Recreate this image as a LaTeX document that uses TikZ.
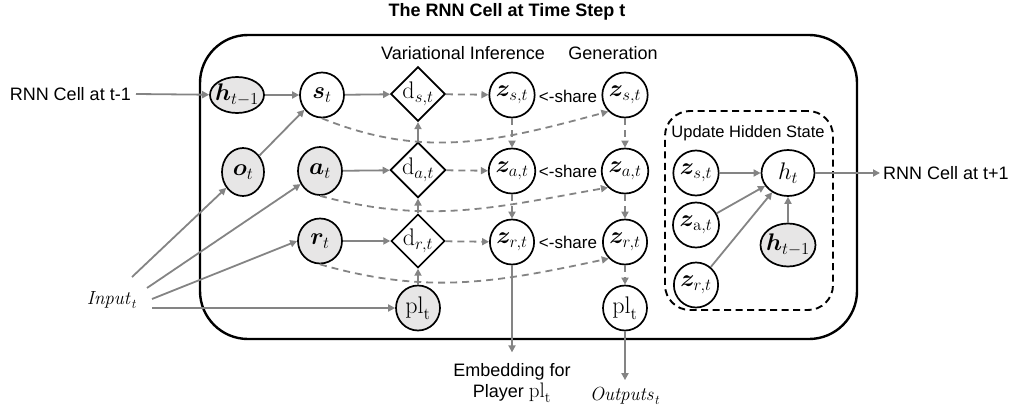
\RequirePackage{fix-cm}
\documentclass[tikz,border=0pt]{standalone}
\usepackage{amsmath,bm}
\usepackage[no-math]{fontspec}
\setmainfont{Liberation Sans}
\usetikzlibrary{arrows.meta,shapes.geometric}
\definecolor{lgray}{RGB}{132,132,132}
\definecolor{nfill}{RGB}{231,230,230}
\begin{document}
\begin{tikzpicture}[x=1pt,y=-1pt,
  every node/.style={font=\fontsize{18}{21}\selectfont, inner sep=2pt},
  mfont/.style={font=\fontsize{24}{28}\selectfont},
  var/.style={draw=black, line width=1.7pt, ellipse, minimum width=44pt, minimum height=45pt, inner sep=0pt, mfont},
  obs/.style={var, fill=nfill},
  hvar/.style={var, minimum width=54pt, minimum height=36pt, inner xsep=-3pt},
  dnode/.style={draw=black, diamond, line width=1.7pt, minimum width=53pt, minimum height=53pt, inner sep=0pt, aspect=1, mfont},
  arr/.style={draw=lgray, line width=1.8pt, -{Triangle[length=7pt,width=7pt]}},
  darr/.style={arr, dash pattern=on 7pt off 5pt},
  ifont/.style={font=\fontsize{19}{22}\selectfont},
]
\useasboundingbox (0,0) rectangle (1016,409);

% title and containers
\node[font=\bfseries\fontsize{18}{21}\selectfont] (title) at (507,12) {The RNN Cell at Time Step t};
\node[draw=black, line width=2.4pt, rounded corners=48pt, minimum width=657pt, minimum height=304pt, inner sep=0pt] (cell) at (528.5,187) {};
\node[draw=black, line width=1.9pt, dash pattern=on 7pt off 4.5pt, rounded corners=25pt, minimum width=168pt, minimum height=199pt, inner sep=0pt] (upd) at (749,210.5) {};

% section labels
\node (vi) at (463,53) {Variational Inference};
\node (gen) at (613,53) {Generation};
\node[font=\fontsize{16.5}{20}\selectfont] (uhs) at (748,133) {Update Hidden State};

% row 1
\node[hvar, fill=nfill] (hprev) at (237,95) {$\bm{h}_{t-1}$};
\node[var] (s) at (322,95) {$\bm{s}_t$};
\node[dnode] (ds) at (418,94) {$\mathrm{d}_{s,t}$};
\node[var] (zs1) at (512,95) {$\bm{z}_{s,t}$};
\node[font=\fontsize{17}{20}\selectfont] (sh1) at (568,96) {\textless-share};
\node[var] (zs2) at (625,95) {$\bm{z}_{s,t}$};

% row 2
\node[obs, minimum width=42pt, minimum height=48pt] (o) at (243,172) {$\bm{o}_t$};
\node[obs, minimum height=48pt] (a) at (320,171) {$\bm{a}_t$};
\node[dnode] (da) at (418,170) {$\mathrm{d}_{a,t}$};
\node[var] (za1) at (512,171) {$\bm{z}_{a,t}$};
\node[font=\fontsize{17}{20}\selectfont] (sh2) at (568,171) {\textless-share};
\node[var] (za2) at (625,171) {$\bm{z}_{a,t}$};

% row 3
\node[obs] (r) at (320,241) {$\bm{r}_t$};
\node[dnode] (dr) at (418,241) {$\mathrm{d}_{r,t}$};
\node[var] (zr1) at (512,242) {$\bm{z}_{r,t}$};
\node[font=\fontsize{17}{20}\selectfont] (sh3) at (568,242) {\textless-share};
\node[var] (zr2) at (625,242) {$\bm{z}_{r,t}$};

% row 4
\node[obs] (pl) at (418,308) {$\mathrm{pl}_\mathrm{t}$};
\node[var] (pl2) at (625,308) {$\mathrm{pl}_\mathrm{t}$};

% update hidden state box
\node[var] (zs3) at (696,173) {$\bm{z}_{s,t}$};
\node[var, minimum width=53pt, minimum height=46pt] (ht) at (788,173) {$h_t$};
\node[var] (za3) at (696,225) {$\bm{z}_{\mathrm{a},t}$};
\node[var] (zr3) at (696,285) {$\bm{z}_{r,t}$};
\node[hvar, fill=nfill, minimum width=55pt, minimum height=43pt] (hprev2) at (788,245) {$\bm{h}_{t-1}$};

% outside labels
\node[anchor=east, inner sep=5pt] (tm1) at (136,94) {RNN Cell at t-1};
\node[anchor=west, inner sep=3pt] (tp1) at (880,173) {RNN Cell at t+1};
\node[ifont] (inp) at (112,300) {$\mathit{Input}_t$};
\coordinate (in1) at (132,277);
\coordinate (in2) at (147,288);
\coordinate (in3) at (152,299);
\coordinate (in4) at (152,308);
\node[align=center, inner xsep=2pt, inner ysep=11pt] (emb) at (512,383) {Embedding for\\Player {\fontsize{21}{21}\selectfont$\mathrm{pl}_\mathrm{t}$}};
\node[ifont, inner ysep=7pt] (outp) at (625,396) {$\mathit{Outputs}_t$};

% solid arrows
\draw[arr] (tm1.east) -- (hprev);
\draw[arr] (hprev) -- (s);
\draw[arr] (o.45) -- (s.220);
\draw[arr] (s) -- (ds);
\draw[arr] (a) -- (da);
\draw[arr] (r) -- (dr);
\draw[arr] (da) -- (ds);
\draw[arr] (dr) -- (da);
\draw[arr] (pl) -- (dr);
\draw[arr] (in1) -- (o);
\draw[arr] (in2) -- (a);
\draw[arr] (in3) -- (r.west);
\draw[arr] (in4) -- (pl);
\draw[arr] (zr1) -- (emb.north);
\draw[arr] (pl2) -- (outp.north);
\draw[arr] (zs3) -- (ht);
\draw[arr] (za3) -- (ht);
\draw[arr] (zr3) -- (ht);
\draw[arr] (hprev2) -- (ht);
\draw[arr] (ht) -- (tp1.west);

% dashed arrows
\draw[darr] (ds) -- (zs1);
\draw[darr] (da) -- (za1);
\draw[darr] (dr) -- (zr1);
\draw[darr] (zs1) -- (za1);
\draw[darr] (za1) -- (zr1);
\draw[darr] (zs2) -- (za2);
\draw[darr] (za2) -- (zr2);
\draw[darr] (zr2) -- (pl2);
\draw[darr] (s.south) to[out=-22, in=195] (zs2.south west);
\draw[darr] (a.south) to[out=-15, in=190] (za2.south west);
\draw[darr] (r.south) to[out=-16, in=192] (zr2.south west);
\end{tikzpicture}
\end{document}
